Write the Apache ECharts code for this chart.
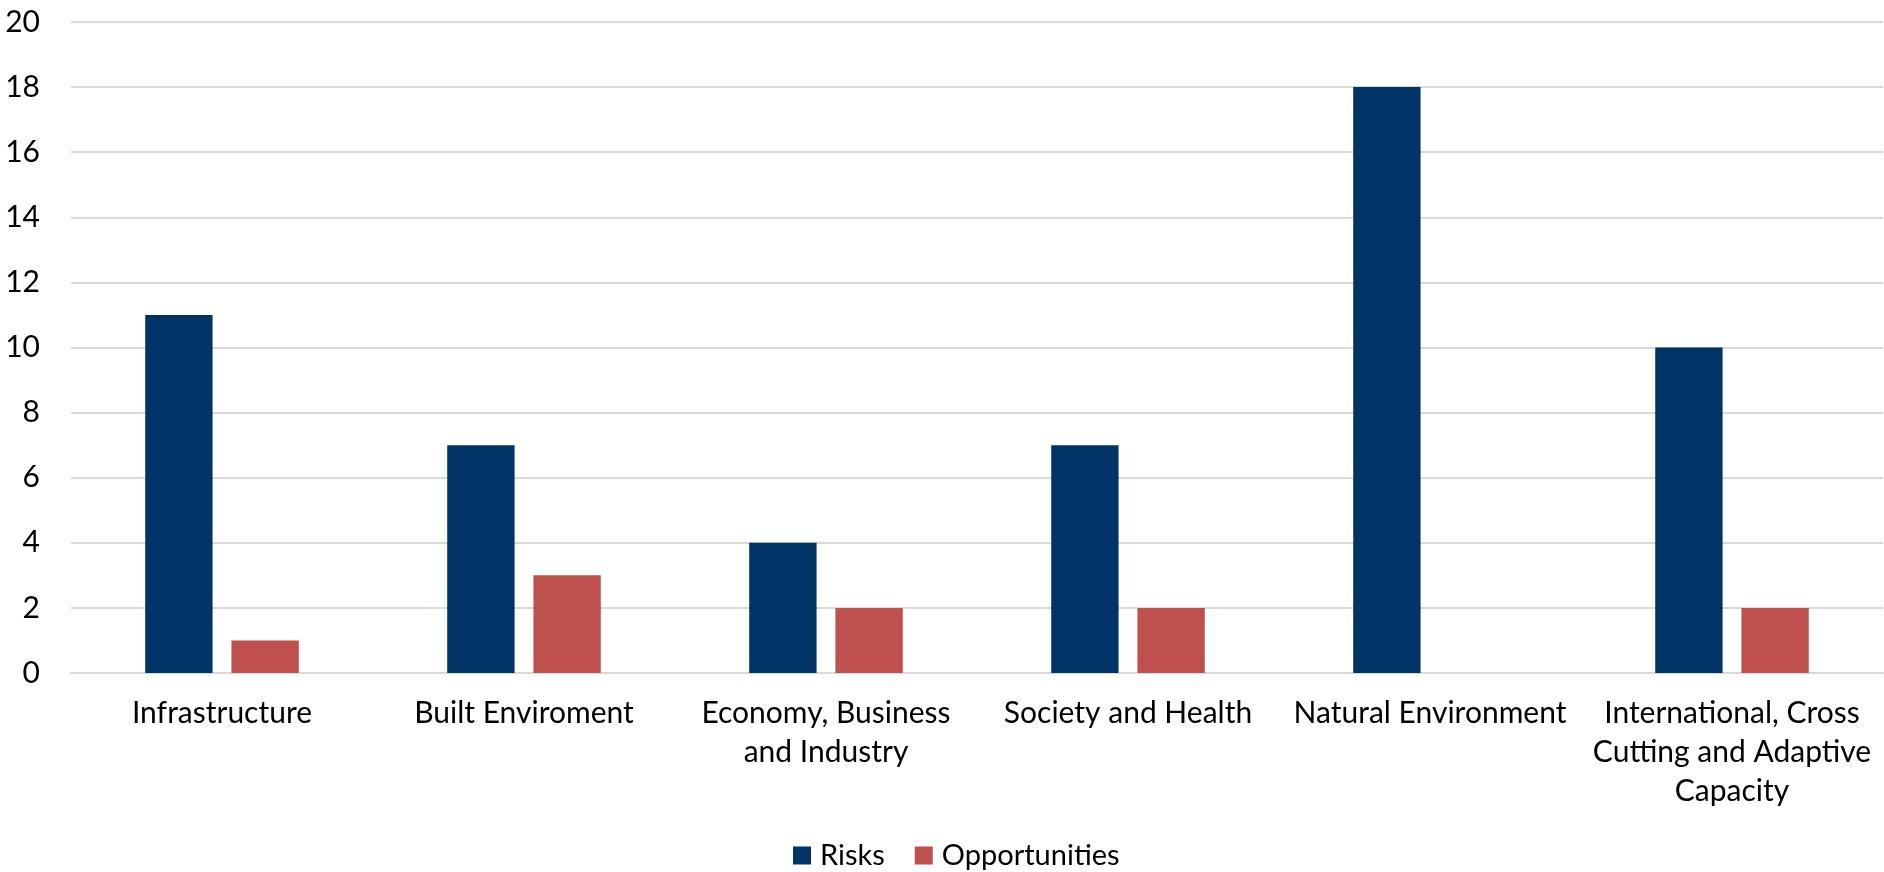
<!DOCTYPE html>
<html>
<head>
<meta charset="utf-8">
<title>Risks and Opportunities</title>
<script src="https://cdn.jsdelivr.net/npm/echarts@6/dist/echarts.min.js"></script>
<style>
  html, body { margin: 0; padding: 0; background: #fff; }
</style>
</head>
<body>
<div id="main" style="width: 1884px; height: 872px;"></div>
<script type="text/javascript">
// data
var categories = [
  'Infrastructure',
  'Built Enviroment',
  'Economy, Business\nand Industry',
  'Society and Health',
  'Natural Environment',
  'International, Cross\nCutting and Adaptive\nCapacity'
];
var risks = [11, 7, 4, 7, 18, 10];
var opportunities = [1, 3, 2, 2, 0, 2];
var yTicks = { min: 0, max: 20, interval: 2 };

var FONT = 'Lato, "Open Sans", sans-serif';
var GRID_COLOR = '#d9d9d9';

var myChart = echarts.init(document.getElementById('main'));
var option = {
  animation: false,
  backgroundColor: '#fff',
  textStyle: { fontFamily: FONT },
  grid: {
    left: 71,
    right: 1,
    top: 22,
    bottom: 199,
    containLabel: false,
    outerBoundsMode: 'none'
  },
  legend: {
    data: ['Risks', 'Opportunities'],
    left: 788,
    top: 836,
    icon: 'rect',
    itemWidth: 18,
    itemHeight: 18,
    itemGap: 30,
    textStyle: { fontFamily: FONT, fontSize: 29, color: '#000', padding: [0, 0, 0, 4] }
  },
  xAxis: {
    type: 'category',
    data: categories,
    axisLine: { show: true, lineStyle: { color: GRID_COLOR, width: 2 } },
    axisTick: { show: false },
    axisLabel: {
      interval: 0,
      margin: 21,
      color: '#000',
      fontFamily: FONT,
      fontSize: 30,
      lineHeight: 39,
      align: 'center'
    }
  },
  yAxis: {
    type: 'value',
    min: yTicks.min,
    max: yTicks.max,
    interval: yTicks.interval,
    axisLine: { show: false },
    axisTick: { show: false },
    axisLabel: { margin: 31, color: '#000', fontFamily: FONT, fontSize: 30 },
    splitLine: { lineStyle: { color: GRID_COLOR, width: 2 } }
  },
  series: [
    {
      name: 'Risks',
      type: 'bar',
      data: risks,
      barWidth: '22.3%',
      barGap: '28%',
      itemStyle: { color: '#003366' }
    },
    {
      name: 'Opportunities',
      type: 'bar',
      data: opportunities,
      barWidth: '22.3%',
      itemStyle: { color: '#c0504d' }
    }
  ]
};
myChart.setOption(option);
</script>
</body>
</html>
